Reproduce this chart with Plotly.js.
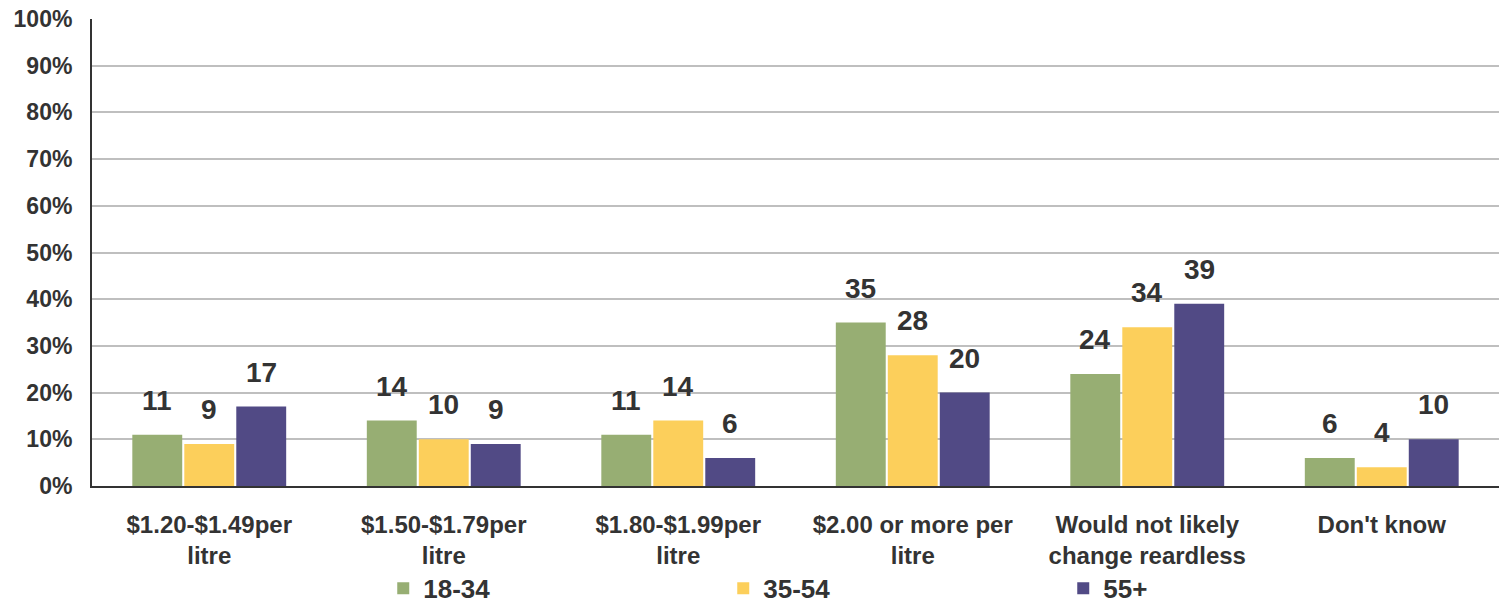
<!DOCTYPE html>
<html><head><meta charset="utf-8">
<script src="https://cdn.plot.ly/plotly-3.0.1.min.js"></script>
<style>html,body{margin:0;padding:0;background:#fff}#chart{width:1499px;height:604px}</style>
</head><body><div id="chart"></div>
<script>
const categories = ["$1.20-$1.49per<br>litre", "$1.50-$1.79per<br>litre", "$1.80-$1.99per<br>litre", "$2.00 or more per<br>litre", "Would not likely<br>change reardless", "Don't know"];
const seriesNames = ["18-34", "35-54", "55+"];
const v1834 = [11, 14, 11, 35, 24, 6];
const v3554 = [9, 10, 14, 28, 34, 4];
const v55 = [17, 9, 6, 20, 39, 10];
const colors = ["#97AE73", "#FCCF5B", "#514A85"];
const seriesValues = [v1834, v3554, v55];

const font = {family: "Liberation Sans, Arial, sans-serif", color: "#333333", weight: 700};

const traces = seriesValues.map((vals, i) => ({
  type: "bar",
  name: seriesNames[i],
  x: categories,
  y: vals,
  marker: {color: colors[i], line: {width: 0}},
  hoverinfo: "skip"
}));

const annotations = [];
seriesValues.forEach((vals, i) => {
  vals.forEach((v, j) => {
    annotations.push({
      x: categories[j], y: v, xref: "x", yref: "y",
      text: String(v), showarrow: false,
      yanchor: "bottom", yshift: 17,
      xshift: (i - 1) * 52,
      font: Object.assign({}, font, {size: 28})
    });
  });
});

const layout = {
  width: 1499, height: 604,
  margin: {l: 92, r: 0, t: 19, b: 118, autoexpand: false},
  paper_bgcolor: "#ffffff", plot_bgcolor: "#ffffff",
  barmode: "group", bargap: 0.335, bargroupgap: 0.04,
  font: font,
  showlegend: true,
  legend: {
    orientation: "h", x: 0.207, xanchor: "left", y: -0.219, yanchor: "middle",
    entrywidth: 295, entrywidthmode: "pixels",
    bgcolor: "rgba(0,0,0,0)",
    font: Object.assign({}, font, {size: 26}),
    itemclick: false
  },
  xaxis: {
    showline: true, linecolor: "#333333", linewidth: 2,
    ticks: "", tickfont: Object.assign({}, font, {size: 24}),
    ticklabelstandoff: 16, showgrid: false, fixedrange: true
  },
  yaxis: {
    range: [0, 100], dtick: 10, ticksuffix: "%",
    showline: true, linecolor: "#333333", linewidth: 2,
    showgrid: true, gridcolor: "#BFBFBF", gridwidth: 2,
    zeroline: false,
    tickfont: Object.assign({}, font, {size: 23}),
    ticklabelstandoff: 13, fixedrange: true
  },
  annotations: annotations
};

Plotly.newPlot("chart", traces, layout, {displayModeBar: false, staticPlot: true});
</script>
</body></html>
